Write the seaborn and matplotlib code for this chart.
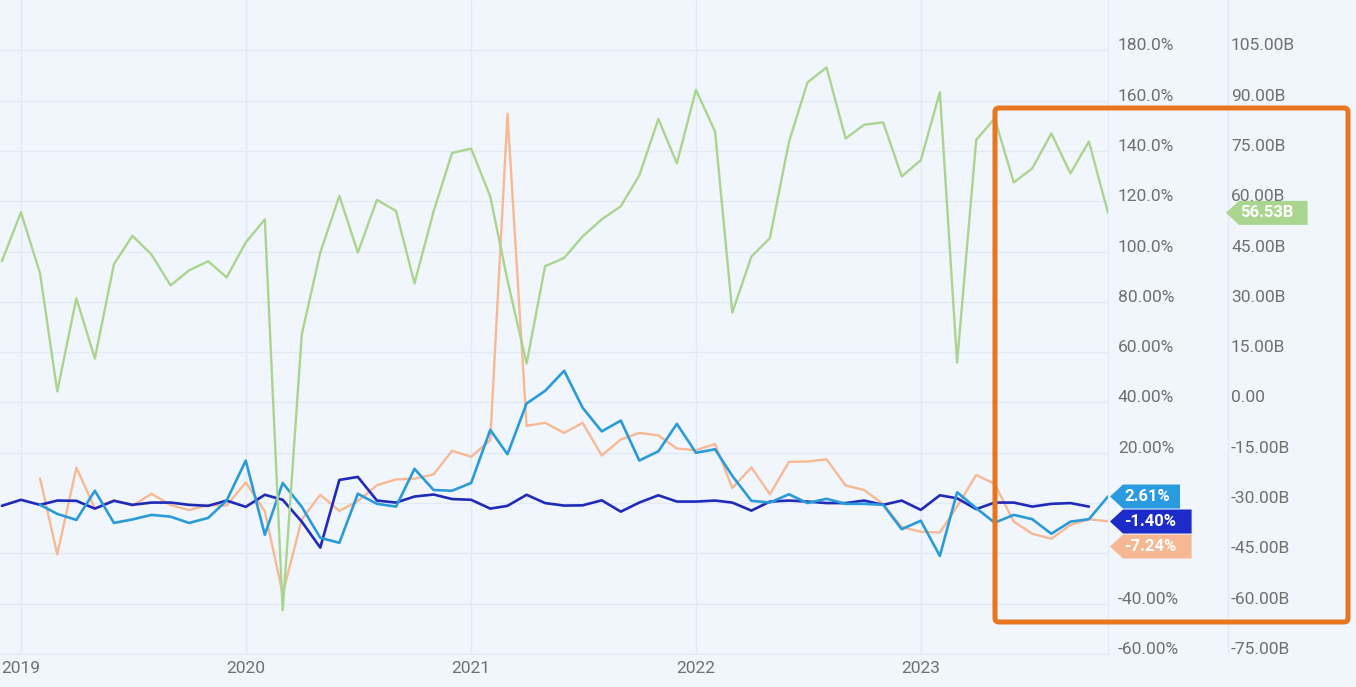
import matplotlib
matplotlib.use("Agg")
import matplotlib.pyplot as plt
import matplotlib.dates as mdates
from matplotlib.patches import Polygon, FancyBboxPatch
from matplotlib.lines import Line2D
from matplotlib.transforms import IdentityTransform
import seaborn as sns
import pandas as pd

# monthly points, Dec 2018 .. Nov 2023
months = pd.date_range("2018-12-01", "2023-11-01", freq="MS")

# green series on the right (billions) axis, Dec 2018 .. Nov 2023
green_b = [42.1,
           56.7, 38.5, 3.3, 31.1, 13.1, 41.2, 49.7, 44.1, 34.9, 39.4, 42.1, 37.3,
           47.7, 54.6, -62.0, 20.3, 44.7, 61.6, 44.7, 60.4, 57.1, 35.5, 57.0, 74.4,
           75.7, 61.4, 36.4, 11.6, 40.6, 43.1, 49.5, 54.6, 58.5, 67.7, 84.5, 71.3,
           93.2, 80.8, 26.8, 43.5, 49.0, 77.7, 95.4, 99.9, 78.7, 82.8, 83.5, 67.4,
           72.2, 92.5, 11.9, 78.3, 84.7, 65.6, 69.8, 80.2, 68.3, 77.8, 56.53]

# dark blue series (%), Dec 2018 .. Oct 2023
navy_pct = [-1.1,
            1.3, -0.7, 1.0, 0.9, -2.2, 0.9, -0.7, 0.2, 0.2, -0.7, -1.1, 1.0,
            -1.5, 3.3, 1.3, -7.4, -17.7, 9.2, 10.4, 1.0, 0.2, 2.6, 3.4, 1.6,
            1.3, -2.2, -1.1, 3.3, 0.0, -1.0, -0.9, 1.1, -3.4, 0.2, 3.1, 0.6,
            0.6, 1.0, 0.2, -3.0, 0.6, 1.0, 0.6, 0.0, 0.0, 1.0, -0.7, 1.0,
            -2.7, 3.1, 1.9, -2.4, 0.2, 0.2, -1.4, -0.3, 0.0, -1.40]

# light blue series (%), Feb 2019 .. Nov 2023
blue_pct = [-0.7, -4.3, -6.7, 4.9, -7.9, -6.5, -4.7, -5.4, -7.9, -5.9, 1.0,
            16.9, -12.6, 8.0, -1.5, -13.8, -15.8, 3.7, -0.3, -1.4, 13.6, 5.2, 4.9,
            8.0, 29.1, 19.4, 39.6, 44.6, 52.6, 37.9, 28.5, 32.8, 16.9, 20.6, 31.5,
            20.0, 21.4, 10.8, 0.9, 0.2, 3.5, 0.0, 1.7, -0.3, -0.3, -0.7, -10.4,
            -7.0, -21.0, 4.3, -2.0, -7.8, -4.7, -6.4, -12.2, -7.4, -6.4, 2.61]

# peach series (%), Feb 2019 .. Nov 2023
peach_pct = [9.8, -20.4, 14.1, -2.1, 1.2, -1.0, 3.7, -0.8, -2.8, -0.8, -1.0,
             8.2, -3.3, -36.1, -6.5, 3.3, -3.1, 0.8, 7.1, 9.4, 9.7, 11.4, 20.8,
             18.4, 25.0, 154.8, 30.7, 31.9, 27.9, 31.9, 18.9, 25.3, 27.9, 26.9, 21.7,
             21.0, 23.5, 6.0, 14.2, 3.5, 16.4, 16.5, 17.4, 7.0, 5.2, -0.4, -9.5,
             -11.4, -11.7, -1.4, 11.2, 7.6, -7.4, -12.2, -14.2, -8.7, -6.4, -7.24]

# 0% and -20% labels sit under the value tags in the original, so they stay blank
pct_ticks = [180, 160, 140, 120, 100, 80, 60, 40, 20, 0, -20, -40, -60]
pct_labels = ["180.0%", "160.0%", "140.0%", "120.0%", "100.0%", "80.00%", "60.00%",
              "40.00%", "20.00%", "", "", "-40.00%", "-60.00%"]
b_ticks = [105, 90, 75, 60, 45, 30, 15, 0, -15, -30, -45, -60, -75]
b_labels = ["105.00B", "90.00B", "75.00B", "60.00B", "45.00B", "30.00B", "15.00B",
            "0.00", "-15.00B", "-30.00B", "-45.00B", "-60.00B", "-75.00B"]

BG = "#f0f6fc"
GRID = "#e3eaf3"
TXT = "#707070"
GREEN = "#a9d58e"
PEACH = "#f7b994"
BLUE = "#2a9bd8"
NAVY = "#1f2ab8"

sns.set_style("white", {"axes.facecolor": BG, "figure.facecolor": BG})
plt.rcParams["font.family"] = ["Roboto", "DejaVu Sans"]

W, H = 1356, 687
fig = plt.figure(figsize=(W / 100, H / 100), dpi=100, facecolor=BG)
ax = fig.add_axes([0, 1 - 654 / H, 1108 / W, 654 / H])
ax.set_facecolor(BG)
ax2 = ax.twinx()

sns.lineplot(x=months[2:], y=peach_pct, ax=ax, color=PEACH, linewidth=1.7)
sns.lineplot(x=months[:-1], y=navy_pct, ax=ax, color=NAVY, linewidth=1.9)
sns.lineplot(x=months[2:], y=blue_pct, ax=ax, color=BLUE, linewidth=1.9)
sns.lineplot(x=months, y=green_b, ax=ax2, color=GREEN, linewidth=1.7)

ax.set_xlim(pd.Timestamp("2018-11-28"), pd.Timestamp("2023-11-01"))
ax.set_ylim(-60, 200)
ax2.set_ylim(-75, 120)

ax.xaxis.set_major_locator(mdates.YearLocator())
ax.xaxis.set_major_formatter(mdates.DateFormatter("%Y"))
ax.tick_params(axis="x", length=0, pad=5, labelsize=12.5, labelcolor=TXT)

ax.yaxis.tick_right()
ax.set_yticks(pct_ticks, pct_labels)
ax.tick_params(axis="y", length=0, pad=7.2, labelsize=12.5, labelcolor=TXT,
               left=False, right=False, labelleft=False, labelright=True)
ax2.set_yticks(b_ticks, b_labels)
ax2.tick_params(axis="y", length=0, pad=88.6, labelsize=12.5, labelcolor=TXT)
for lbl in ax.get_yticklabels() + ax2.get_yticklabels():
    lbl.set_va("baseline")

ax.grid(True, color=GRID, linewidth=1)
ax2.grid(False)
for a in (ax, ax2):
    a.set_xlabel("")
    a.set_ylabel("")
    for s in a.spines.values():
        s.set_visible(False)
ax.spines["right"].set_visible(True)
ax.spines["right"].set_color(GRID)
ax.spines["bottom"].set_visible(True)
ax.spines["bottom"].set_color(GRID)

# separator between the two value scales
fig.add_artist(Line2D([1228, 1228], [H - 654, H], transform=IdentityTransform(),
                      color=GRID, linewidth=1))


def tag(x_tip, y_mid, text, color):
    h = 24
    w = 12 + 11.6 * len(text)
    pts = [(x_tip, y_mid), (x_tip + 13, y_mid + h / 2), (x_tip + w, y_mid + h / 2),
           (x_tip + w, y_mid - h / 2), (x_tip + 13, y_mid - h / 2)]
    fig.add_artist(Polygon(pts, closed=True, transform=IdentityTransform(),
                           facecolor=color, edgecolor="none", zorder=5))
    fig.text(x_tip + 14, y_mid, text, transform=IdentityTransform(), color="white",
             fontsize=12, fontweight="bold", va="center", ha="left", zorder=6)


x0 = ax.get_xlim()[0]
# last-value tags, pushed apart so they do not overlap
pct_tags = [(blue_pct[-1], "2.61%", "#2b9be0"),
            (navy_pct[-1], "-1.40%", "#1d2bc8"),
            (peach_pct[-1], "-7.24%", "#f6b893")]
prev = None
for val, txt, col in sorted(pct_tags, key=lambda t: -t[0]):
    y = ax.transData.transform((x0, val))[1]
    if prev is not None and y > prev - 25:
        y = prev - 25
    tag(1110, y, txt, col)
    prev = y

yg = ax2.transData.transform((x0, green_b[-1]))[1]
tag(1226, yg, "56.53B", GREEN)

# orange highlight frame
fig.add_artist(FancyBboxPatch((995, H - 622), 353, 514,
                              boxstyle="round,pad=0,rounding_size=4",
                              transform=IdentityTransform(), fill=False,
                              edgecolor="#e8761f", linewidth=3.6, zorder=10))

fig.savefig("out.png", dpi=100, facecolor=BG)
